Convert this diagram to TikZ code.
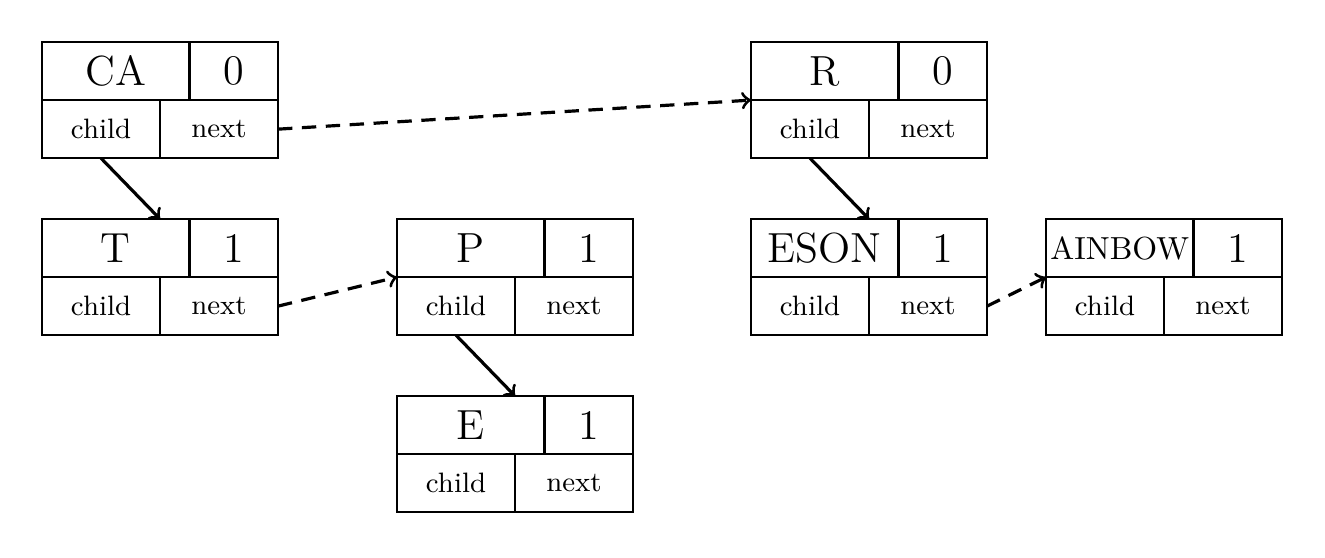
\documentclass[tikz,border=0pt]{standalone}
\usepackage[]{xcolor}
\usepackage{amsmath,amssymb}
\usetikzlibrary{positioning}

% one list node: #1 name, #2 top left corner, #3 label, #4 count
\newcommand{\trieitem}[4]{%
\node [keycell, anchor = north west] (#1-key) at (#2) {#3};
\node [cntcell, anchor = north west] (#1-cnt) at (#1-key.north east) {\bigtxt #4};
\node [ptrcell, anchor = north west] (#1-child) at (#1-key.south west) {child};
\node [ptrcell, anchor = north west] (#1-next) at (#1-child.north east) {next};
}
\newcommand{\bigtxt}{\fontsize{13.2pt}{15pt}\selectfont}

\begin{document}
\begin{tikzpicture}[
  cell/.style = {draw, line width = .7pt, inner sep = 0pt, outer sep = 0pt, minimum height = .64cm},
  keycell/.style = {cell, minimum width = 1.625cm},
  cntcell/.style = {cell, minimum width = .975cm},
  ptrcell/.style = {cell, minimum width = 1.3cm, font = \fontsize{8.8pt}{10pt}\selectfont},
  childarrow/.style = {->, line width = 1pt},
  nextarrow/.style = {->, line width = 1pt, dash pattern = on 4.5pt off 3pt}]
\useasboundingbox (0,0) rectangle (14.598,-6.137);
\trieitem{ca}{0.463,-0.463}{\bigtxt CA}{0}
\trieitem{t}{0.463,-2.413}{\bigtxt T}{1}
\trieitem{p}{4.374,-2.413}{\bigtxt P}{1}
\trieitem{e}{4.374,-4.363}{\bigtxt E}{1}
\trieitem{r}{8.274,-0.463}{\bigtxt R}{0}
\trieitem{eson}{8.274,-2.413}{\bigtxt ESON}{1}
\trieitem{ainbow}{11.524,-2.413}{AINBOW}{1}
% child pointers
\draw [childarrow] (ca-child.south) -- (t-child.north east |- t-key.north);
\draw [childarrow] (p-child.south) -- (e-child.north east |- e-key.north);
\draw [childarrow] (r-child.south) -- (eson-child.north east |- eson-key.north);
% next pointers
\draw [nextarrow] (ca-next.east) -- (r-key.south west);
\draw [nextarrow] (t-next.east) -- (p-key.south west);
\draw [nextarrow] (eson-next.east) -- (ainbow-key.south west);
\end{tikzpicture}
\end{document}
